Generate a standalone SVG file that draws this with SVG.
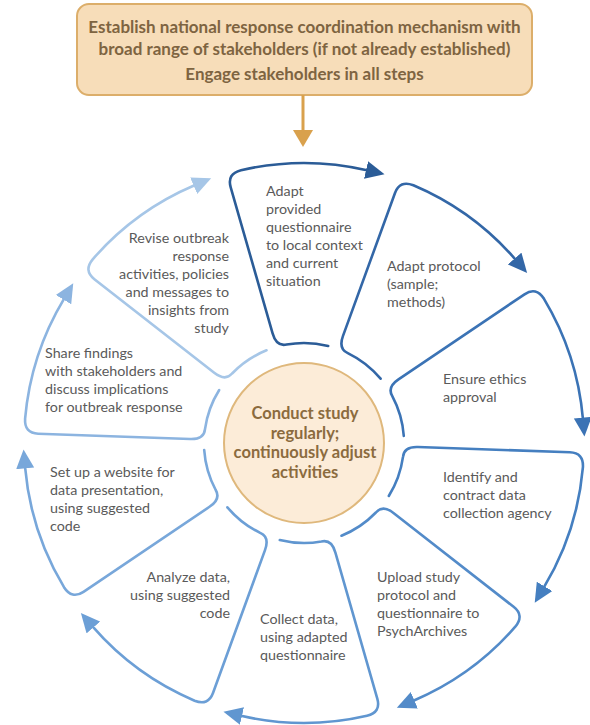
<svg xmlns="http://www.w3.org/2000/svg" width="590" height="725" viewBox="0 0 590 725">
<style>
.seg{fill:none;stroke-width:2.6;stroke-linecap:round;stroke-linejoin:round}
.t{font-family:Lato,"Open Sans","Liberation Sans",sans-serif;font-size:14.3px;fill:#5a5a5a}
.r{text-anchor:end}
.b{font-family:Lato,"Open Sans","Liberation Sans",sans-serif;font-weight:700;text-anchor:middle}
.hb{font-size:17px;fill:#7e6441}
.cb{font-size:16.5px;fill:#8b6b3e}
</style>
<defs>
<marker id="m0" markerUnits="userSpaceOnUse" markerWidth="20" markerHeight="19" refX="1" refY="9" orient="auto" viewBox="0 0 20 18"><path d="M0,0 L19,9 L0,18 z" fill="#2b5c97"/></marker>
<marker id="m1" markerUnits="userSpaceOnUse" markerWidth="20" markerHeight="19" refX="1" refY="9" orient="auto" viewBox="0 0 20 18"><path d="M0,0 L19,9 L0,18 z" fill="#3367a7"/></marker>
<marker id="m2" markerUnits="userSpaceOnUse" markerWidth="20" markerHeight="19" refX="1" refY="9" orient="auto" viewBox="0 0 20 18"><path d="M0,0 L19,9 L0,18 z" fill="#3b73b5"/></marker>
<marker id="m3" markerUnits="userSpaceOnUse" markerWidth="20" markerHeight="19" refX="1" refY="9" orient="auto" viewBox="0 0 20 18"><path d="M0,0 L19,9 L0,18 z" fill="#457fc0"/></marker>
<marker id="m4" markerUnits="userSpaceOnUse" markerWidth="20" markerHeight="19" refX="1" refY="9" orient="auto" viewBox="0 0 20 18"><path d="M0,0 L19,9 L0,18 z" fill="#538bc9"/></marker>
<marker id="m5" markerUnits="userSpaceOnUse" markerWidth="20" markerHeight="19" refX="1" refY="9" orient="auto" viewBox="0 0 20 18"><path d="M0,0 L19,9 L0,18 z" fill="#6096d0"/></marker>
<marker id="m6" markerUnits="userSpaceOnUse" markerWidth="20" markerHeight="19" refX="1" refY="9" orient="auto" viewBox="0 0 20 18"><path d="M0,0 L19,9 L0,18 z" fill="#6c9fd6"/></marker>
<marker id="m7" markerUnits="userSpaceOnUse" markerWidth="20" markerHeight="19" refX="1" refY="9" orient="auto" viewBox="0 0 20 18"><path d="M0,0 L19,9 L0,18 z" fill="#78a7da"/></marker>
<marker id="m8" markerUnits="userSpaceOnUse" markerWidth="20" markerHeight="19" refX="1" refY="9" orient="auto" viewBox="0 0 20 18"><path d="M0,0 L19,9 L0,18 z" fill="#8cb4e0"/></marker>
<marker id="m9" markerUnits="userSpaceOnUse" markerWidth="20" markerHeight="19" refX="1" refY="9" orient="auto" viewBox="0 0 20 18"><path d="M0,0 L19,9 L0,18 z" fill="#a6c6e7"/></marker>
<marker id="mo" markerUnits="userSpaceOnUse" markerWidth="18" markerHeight="21" refX="1" refY="10" orient="auto" viewBox="0 0 18 20"><path d="M0,0 L17,10 L0,20 z" fill="#d9a14d"/></marker>
</defs>

<g id="top-box">
<rect x="77" y="4" width="455" height="91" rx="12" fill="#f7ddb9" stroke="#dcae6a" stroke-width="2"/>
<text class="b hb" x="304.5" y="33">Establish national response coordination mechanism with</text>
<text class="b hb" x="304.5" y="55">broad range of stakeholders (if not already established)</text>
<text class="b hb" x="304.5" y="80">Engage stakeholders in all steps</text>
</g>

<g id="center">
<circle cx="304" cy="443" r="80" fill="#fcecd8" stroke="#dfb87c" stroke-width="2"/>
<text class="b cb" x="305" y="419">Conduct study</text>
<text class="b cb" x="305" y="438.5">regularly;</text>
<text class="b cb" x="305" y="458">continuously adjust</text>
<text class="b cb" x="305" y="477.5">activities</text>
</g>

<g id="connectors">
<path d="M303,95 L303,131" stroke="#d9a14d" stroke-width="3" fill="none" marker-end="url(#mo)"/>
<path class="seg" stroke="#2b5c97" marker-end="url(#m0)" d="M328.2,346.0 A100,100 0 0 0 286.6,344.5 Q276.4,346.9 272.6,333.4 L230.7,187.3 Q226.8,173.8 241.0,170.2 A280,280 0 0 1 367.0,170.2"/>
<path class="seg" stroke="#3367a7" marker-end="url(#m1)" d="M380.6,378.7 A100,100 0 0 0 347.8,353.1 Q338.2,349.0 343.0,335.9 L395.0,193.0 Q399.8,179.9 413.4,185.3 A280,280 0 0 1 515.3,259.3"/>
<path class="seg" stroke="#3b73b5" marker-end="url(#m2)" d="M403.8,436.0 A100,100 0 0 0 392.3,396.1 Q386.9,387.1 398.5,379.3 L524.5,294.3 Q536.1,286.4 544.0,298.8 A280,280 0 0 1 582.9,418.6"/>
<path class="seg" stroke="#457fc0" marker-end="url(#m3)" d="M388.8,496.0 A100,100 0 0 0 403.0,456.9 Q403.9,446.5 417.9,447.0 L569.8,452.3 Q583.8,452.8 582.9,467.4 A280,280 0 0 1 544.0,587.2"/>
<path class="seg" stroke="#538bc9" marker-end="url(#m4)" d="M341.5,535.7 A100,100 0 0 0 375.9,512.5 Q382.8,504.6 393.8,513.2 L513.6,606.8 Q524.6,615.4 515.3,626.7 A280,280 0 0 1 413.4,700.7"/>
<path class="seg" stroke="#6096d0" marker-end="url(#m5)" d="M279.8,540.0 A100,100 0 0 0 321.4,541.5 Q331.6,539.1 335.4,552.6 L377.3,698.7 Q381.2,712.2 367.0,715.8 A280,280 0 0 1 241.0,715.8"/>
<path class="seg" stroke="#6c9fd6" marker-end="url(#m6)" d="M227.4,507.3 A100,100 0 0 0 260.2,532.9 Q269.8,537.0 265.0,550.1 L213.0,693.0 Q208.2,706.1 194.6,700.7 A280,280 0 0 1 92.7,626.7"/>
<path class="seg" stroke="#78a7da" marker-end="url(#m7)" d="M204.2,450.0 A100,100 0 0 0 215.7,490.0 Q221.1,498.9 209.5,506.8 L83.5,591.8 Q71.9,599.6 64.0,587.2 A280,280 0 0 1 25.1,467.4"/>
<path class="seg" stroke="#8cb4e0" marker-end="url(#m8)" d="M219.2,390.0 A100,100 0 0 0 205.0,429.1 Q204.1,439.5 190.1,439.0 L38.2,433.7 Q24.2,433.2 25.1,418.6 A280,280 0 0 1 64.0,298.8"/>
<path class="seg" stroke="#a6c6e7" marker-end="url(#m9)" d="M266.5,350.3 A100,100 0 0 0 232.1,373.5 Q225.2,381.4 214.2,372.8 L94.4,279.2 Q83.4,270.6 92.7,259.3 A280,280 0 0 1 194.6,185.3"/>
</g>

<g id="step1"><text class="t" x="266" y="196">Adapt</text><text class="t" x="266" y="214">provided</text><text class="t" x="266" y="232">questionnaire</text><text class="t" x="266" y="250">to local context</text><text class="t" x="266" y="268">and current</text><text class="t" x="266" y="286">situation</text></g>
<g id="step2"><text class="t" x="387" y="271">Adapt protocol</text><text class="t" x="387" y="289">(sample;</text><text class="t" x="387" y="307">methods)</text></g>
<g id="step3"><text class="t" x="443" y="384">Ensure ethics</text><text class="t" x="443" y="402">approval</text></g>
<g id="step4"><text class="t" x="443" y="482">Identify and</text><text class="t" x="443" y="500">contract data</text><text class="t" x="443" y="518">collection agency</text></g>
<g id="step5"><text class="t" x="377" y="582">Upload study</text><text class="t" x="377" y="600">protocol and</text><text class="t" x="377" y="618">questionnaire to</text><text class="t" x="377" y="636">PsychArchives</text></g>
<g id="step6"><text class="t" x="260" y="624">Collect data,</text><text class="t" x="260" y="642">using adapted</text><text class="t" x="260" y="660">questionnaire</text></g>
<g id="step7"><text class="t r" x="230" y="582">Analyze data,</text><text class="t r" x="230" y="600">using suggested</text><text class="t r" x="230" y="618">code</text></g>
<g id="step8"><text class="t" x="50" y="477">Set up a website for</text><text class="t" x="50" y="495">data presentation,</text><text class="t" x="50" y="513">using suggested</text><text class="t" x="50" y="531">code</text></g>
<g id="step9"><text class="t" x="45" y="358">Share findings</text><text class="t" x="45" y="376">with stakeholders and</text><text class="t" x="45" y="394">discuss implications</text><text class="t" x="45" y="412">for outbreak response</text></g>
<g id="step10"><text class="t r" x="229" y="243">Revise outbreak</text><text class="t r" x="229" y="261">response</text><text class="t r" x="229" y="279">activities, policies</text><text class="t r" x="229" y="297">and messages to</text><text class="t r" x="229" y="315">insights from</text><text class="t r" x="229" y="333">study</text></g>
</svg>
